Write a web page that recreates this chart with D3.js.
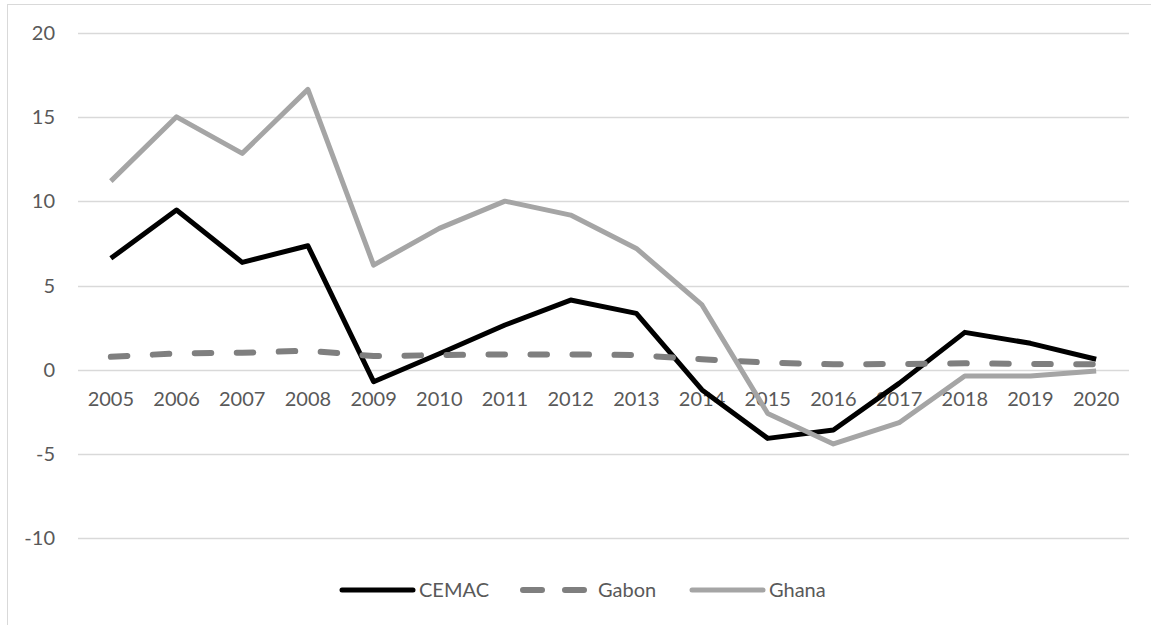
<!DOCTYPE html>
<html>
<head>
<meta charset="utf-8">
<script src="https://cdn.jsdelivr.net/npm/d3@7"></script>
<style>
  html, body { margin: 0; padding: 0; background: #fff; }
  svg { display: block; }
</style>
</head>
<body>
<svg id="chart" width="1151" height="625"></svg>
<script>
// Years on the category axis
const years = ["2005","2006","2007","2008","2009","2010","2011","2012","2013","2014","2015","2016","2017","2018","2019","2020"];

// Series values (%)
const cemac = [6.62, 9.49, 6.38, 7.37, -0.71, 0.95, 2.66, 4.14, 3.35, -1.2, -4.08, -3.58, -0.81, 2.22, 1.57, 0.62];
const gabon = [0.77, 0.97, 1.01, 1.13, 0.81, 0.87, 0.91, 0.91, 0.87, 0.62, 0.42, 0.32, 0.34, 0.38, 0.34, 0.32];
const ghana = [11.21, 15.03, 12.86, 16.66, 6.22, 8.4, 10.02, 9.19, 7.21, 3.85, -2.6, -4.41, -3.15, -0.37, -0.37, -0.08];

// Value axis ticks
const yTicks = [-10, -5, 0, 5, 10, 15, 20];

const series = [
  { name: "CEMAC", values: cemac, color: "#000000", dash: null, width: 5 },
  { name: "Gabon", values: gabon, color: "#7f7f7f", dash: "16.5,25.5", width: 6 },
  { name: "Ghana", values: ghana, color: "#a5a5a5", dash: null, width: 5 }
];

const svg = d3.select("#chart");
const font = "Lato, 'Open Sans', sans-serif";
const textColor = "#595959";

// Outer chart frame
svg.append("rect")
  .attr("x", 7.5).attr("y", 4.5)
  .attr("width", 1160).attr("height", 640)
  .attr("fill", "none").attr("stroke", "#d9d9d9").attr("stroke-width", 1);

const plot = { left: 78, right: 1129, top: 33.2, bottom: 538 };

const x = d3.scaleBand().domain(years).range([plot.left, plot.right]);
const y = d3.scaleLinear().domain([-10, 20]).range([plot.bottom, plot.top]);

// Horizontal gridlines
svg.append("g")
  .selectAll("line")
  .data(yTicks)
  .join("line")
  .attr("x1", plot.left).attr("x2", plot.right)
  .attr("y1", d => Math.round(y(d)) + 0.5).attr("y2", d => Math.round(y(d)) + 0.5)
  .attr("stroke", "#d9d9d9").attr("stroke-width", 1.5);

// Value axis labels (plain hyphen for negatives)
const yAxis = d3.axisLeft(y).tickValues(yTicks).tickFormat(d => String(d)).tickSize(0).tickPadding(0);
const gy = svg.append("g").attr("transform", "translate(55,0)").call(yAxis);
gy.select(".domain").remove();
gy.selectAll("text")
  .attr("fill", textColor)
  .style("font-family", font).style("font-size", "20px");

// Category labels sit just below the zero line
const xAxis = d3.axisBottom(x).tickSize(0).tickPadding(0);
const gx = svg.append("g").attr("transform", "translate(0,391)").call(xAxis);
gx.select(".domain").remove();
gx.selectAll("text")
  .attr("fill", textColor)
  .attr("dy", "0.75em")
  .style("font-family", font).style("font-size", "20px");

// Lines
const line = d3.line()
  .x((d, i) => x(years[i]) + x.bandwidth() / 2)
  .y(d => y(d));

svg.append("g")
  .selectAll("path")
  .data(series)
  .join("path")
  .attr("d", d => line(d.values))
  .attr("fill", "none")
  .attr("stroke", d => d.color)
  .attr("stroke-width", d => d.width)
  .attr("stroke-linejoin", "round")
  .attr("stroke-linecap", d => d.dash ? "round" : "butt")
  .attr("stroke-dasharray", d => d.dash);

// Legend
const legendItems = [
  { s: series[0], x0: 342, x1: 413, tx: 419 },
  { s: series[1], x0: 523, x1: 585, tx: 598 },
  { s: series[2], x0: 692, x1: 763, tx: 769 }
];
const lg = svg.append("g");
const ly = 590;
lg.selectAll("line")
  .data(legendItems)
  .join("line")
  .attr("x1", d => d.x0).attr("x2", d => d.x1)
  .attr("y1", ly).attr("y2", ly)
  .attr("stroke", d => d.s.color)
  .attr("stroke-width", d => d.s.width)
  .attr("stroke-linecap", "round")
  .attr("stroke-dasharray", d => d.s.dash ? "19,23" : null);
lg.selectAll("text")
  .data(legendItems)
  .join("text")
  .attr("x", d => d.tx).attr("y", ly)
  .attr("dy", "0.36em")
  .attr("fill", textColor)
  .style("font-family", font).style("font-size", "20px")
  .text(d => d.s.name);
</script>
</body>
</html>
